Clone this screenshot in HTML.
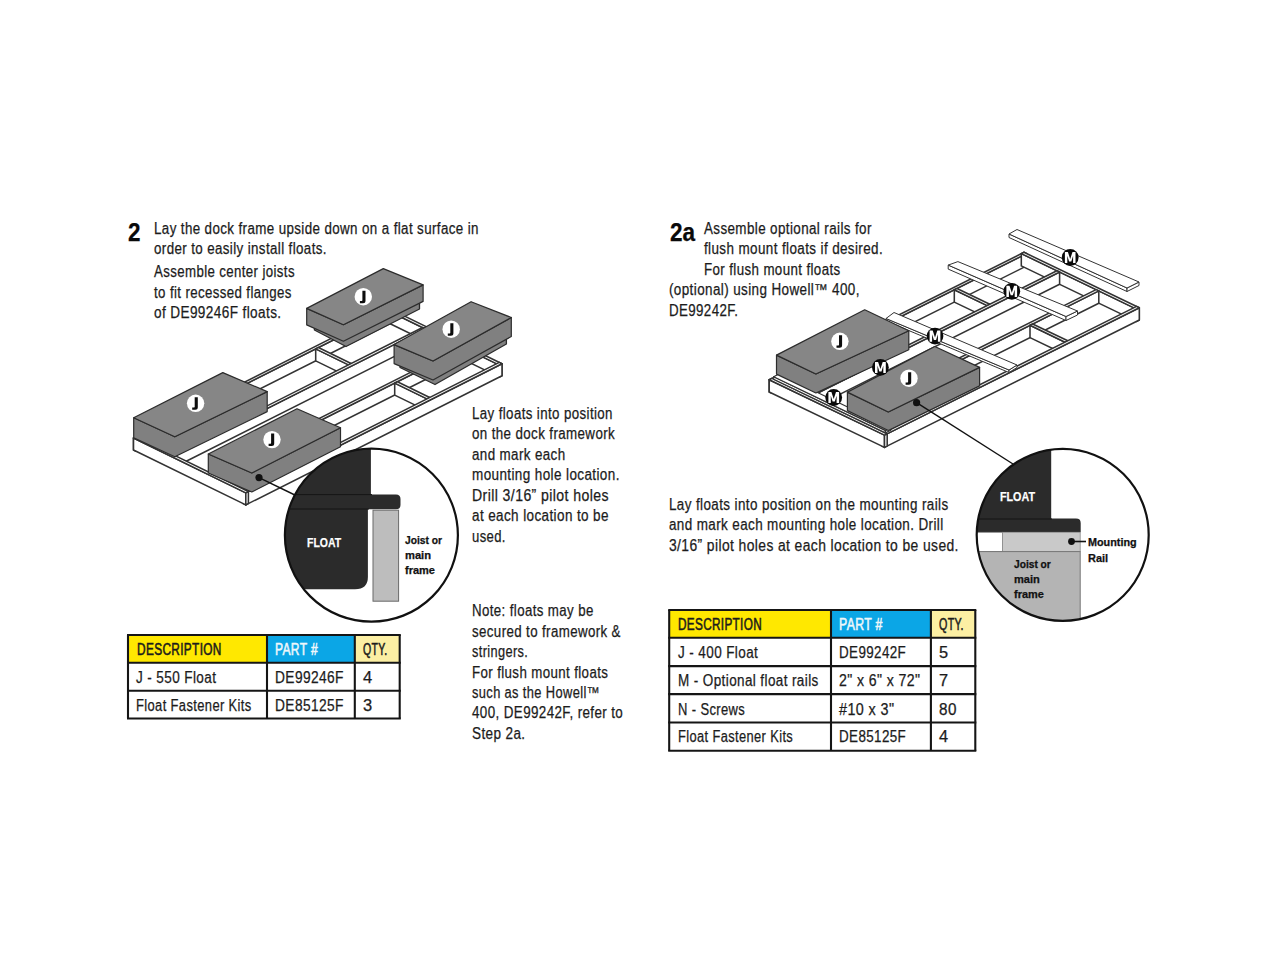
<!DOCTYPE html>
<html><head><meta charset="utf-8"><style>
html,body{margin:0;padding:0;background:#fff;}
body{width:1270px;height:961px;position:relative;overflow:hidden;font-family:"Liberation Sans",sans-serif;}
.t{position:absolute;white-space:pre;line-height:normal;transform-origin:0 0;-webkit-text-stroke:0.25px currentColor;}
svg{position:absolute;left:0;top:0;}
</style></head><body>
<svg width="1270" height="961" viewBox="0 0 1270 961"><polygon points="133.5,438.0 136.2,439.3 136.2,451.3 133.5,450.0" fill="#fff" stroke="#333333" stroke-width="1.55" stroke-linejoin="round" /><polygon points="136.2,439.3 392.5,310.2 392.5,322.2 136.2,451.3" fill="#fff" stroke="#333333" stroke-width="1.55" stroke-linejoin="round" /><polygon points="133.5,438.0 389.8,308.9 392.5,310.2 136.2,439.3" fill="#fff" stroke="#333333" stroke-width="1.55" stroke-linejoin="round" /><polygon points="387.1,310.2 499.4,365.1 499.4,377.1 387.1,322.2" fill="#fff" stroke="#333333" stroke-width="1.55" stroke-linejoin="round" /><polygon points="499.4,365.1 502.0,363.7 502.0,375.7 499.4,377.1" fill="#fff" stroke="#333333" stroke-width="1.55" stroke-linejoin="round" /><polygon points="387.1,310.2 389.8,308.9 502.0,363.7 499.4,365.1" fill="#fff" stroke="#333333" stroke-width="1.55" stroke-linejoin="round" /><polygon points="315.7,348.9 348.5,364.9 348.5,376.9 315.7,360.9" fill="#fff" stroke="#333333" stroke-width="1.55" stroke-linejoin="round" /><polygon points="348.5,364.9 351.1,363.5 351.1,375.5 348.5,376.9" fill="#fff" stroke="#333333" stroke-width="1.55" stroke-linejoin="round" /><polygon points="315.7,348.9 318.4,347.5 351.1,363.5 348.5,364.9" fill="#fff" stroke="#333333" stroke-width="1.55" stroke-linejoin="round" /><polygon points="171.7,454.0 174.3,455.3 174.3,467.3 171.7,466.0" fill="#fff" stroke="#333333" stroke-width="1.55" stroke-linejoin="round" /><polygon points="174.3,455.3 425.3,328.9 425.3,340.9 174.3,467.3" fill="#fff" stroke="#333333" stroke-width="1.55" stroke-linejoin="round" /><polygon points="171.7,454.0 422.6,327.5 425.3,328.9 174.3,455.3" fill="#fff" stroke="#333333" stroke-width="1.55" stroke-linejoin="round" /><polygon points="210.7,473.1 213.4,474.4 213.4,486.4 210.7,485.1" fill="#fff" stroke="#333333" stroke-width="1.55" stroke-linejoin="round" /><polygon points="213.4,474.4 464.3,348.0 464.3,360.0 213.4,486.4" fill="#fff" stroke="#333333" stroke-width="1.55" stroke-linejoin="round" /><polygon points="210.7,473.1 461.6,346.6 464.3,348.0 213.4,474.4" fill="#fff" stroke="#333333" stroke-width="1.55" stroke-linejoin="round" /><polygon points="394.7,383.1 427.0,398.9 427.0,410.9 394.7,395.1" fill="#fff" stroke="#333333" stroke-width="1.55" stroke-linejoin="round" /><polygon points="427.0,398.9 429.7,397.5 429.7,409.5 427.0,410.9" fill="#fff" stroke="#333333" stroke-width="1.55" stroke-linejoin="round" /><polygon points="394.7,383.1 397.4,381.7 429.7,397.5 427.0,398.9" fill="#fff" stroke="#333333" stroke-width="1.55" stroke-linejoin="round" /><polygon points="243.1,491.6 245.8,492.9 245.8,504.9 243.1,503.6" fill="#fff" stroke="#333333" stroke-width="1.55" stroke-linejoin="round" /><polygon points="245.8,492.9 502.0,363.7 502.0,375.7 245.8,504.9" fill="#fff" stroke="#333333" stroke-width="1.55" stroke-linejoin="round" /><polygon points="243.1,491.6 499.3,362.4 502.0,363.7 245.8,492.9" fill="#fff" stroke="#333333" stroke-width="1.55" stroke-linejoin="round" /><polygon points="133.5,438.0 245.8,492.9 245.8,504.9 133.5,450.0" fill="#fff" stroke="#333333" stroke-width="1.55" stroke-linejoin="round" /><polygon points="245.8,492.9 248.4,491.5 248.4,503.5 245.8,504.9" fill="#fff" stroke="#333333" stroke-width="1.55" stroke-linejoin="round" /><polygon points="133.5,438.0 136.2,436.6 248.4,491.5 245.8,492.9" fill="#fff" stroke="#333333" stroke-width="1.55" stroke-linejoin="round" /><polygon points="314.4,321.0 346.0,337.5 419.5,300.0 419.5,309.0 346.0,346.5 314.4,330.0" fill="#808080" stroke="#2c2c2c" stroke-width="1.3" stroke-linejoin="round" /><polygon points="306.7,308.4 343.4,324.7 423.1,284.9 423.1,301.4 343.4,341.2 306.7,324.9" fill="#808080" stroke="#2c2c2c" stroke-width="1.2" stroke-linejoin="round" /><polygon points="306.7,308.4 383.3,268.6 423.1,284.9 343.4,324.7" fill="#868686" stroke="#2c2c2c" stroke-width="1.2" stroke-linejoin="round" /><polygon points="400.0,359.0 435.0,376.0 506.4,335.5 506.4,344.0 435.0,384.5 400.0,367.5" fill="#808080" stroke="#2c2c2c" stroke-width="1.3" stroke-linejoin="round" /><polygon points="394.1,344.6 433.0,361.0 511.3,317.5 511.3,336.5 433.0,380.0 394.1,363.6" fill="#808080" stroke="#2c2c2c" stroke-width="1.2" stroke-linejoin="round" /><polygon points="394.1,344.6 471.1,301.7 511.3,317.5 433.0,361.0" fill="#868686" stroke="#2c2c2c" stroke-width="1.2" stroke-linejoin="round" /><polygon points="133.7,417.8 174.8,436.8 267.2,391.6 267.2,411.6 174.8,456.8 133.7,437.8" fill="#808080" stroke="#2c2c2c" stroke-width="1.2" stroke-linejoin="round" /><polygon points="133.7,417.8 222.8,372.6 267.2,391.6 174.8,436.8" fill="#868686" stroke="#2c2c2c" stroke-width="1.2" stroke-linejoin="round" /><polygon points="208.3,454.0 251.8,473.0 340.5,427.8 340.5,446.8 251.8,492.0 208.3,473.0" fill="#808080" stroke="#2c2c2c" stroke-width="1.2" stroke-linejoin="round" /><polygon points="208.3,454.0 297.0,408.8 340.5,427.8 251.8,473.0" fill="#868686" stroke="#2c2c2c" stroke-width="1.2" stroke-linejoin="round" /><circle cx="363.3" cy="296.7" r="8.7" fill="#fff"/><path d="M362.40,290.70 H365.50 V300.70 Q365.50,303.20 363.00,303.20 H359.90 V300.90 H361.80 Q362.40,300.90 362.40,300.20 Z" fill="#0d0d0d"/><circle cx="451.2" cy="329.2" r="8.7" fill="#fff"/><path d="M450.30,323.20 H453.40 V333.20 Q453.40,335.70 450.90,335.70 H447.80 V333.40 H449.70 Q450.30,333.40 450.30,332.70 Z" fill="#0d0d0d"/><circle cx="195.6" cy="403.3" r="8.7" fill="#fff"/><path d="M194.70,397.30 H197.80 V407.30 Q197.80,409.80 195.30,409.80 H192.20 V407.50 H194.10 Q194.70,407.50 194.70,406.80 Z" fill="#0d0d0d"/><circle cx="272" cy="439.6" r="8.7" fill="#fff"/><path d="M271.10,433.60 H274.20 V443.60 Q274.20,446.10 271.70,446.10 H268.60 V443.80 H270.50 Q271.10,443.80 271.10,443.10 Z" fill="#0d0d0d"/><line x1="259.0" y1="477.6" x2="300.0" y2="497.5" stroke="#111" stroke-width="1.4"/><circle cx="259" cy="477.6" r="3.6" fill="#111"/><clipPath id="cl1"><circle cx="371.4" cy="535.2" r="86.5"/></clipPath><circle cx="371.4" cy="535.2" r="86.5" fill="#fff"/><g clip-path="url(#cl1)"><path d="M270,440 L370.9,440 L370.9,494.4 L396,494.4 Q400.5,494.4 400.5,499 L400.5,505 Q400.5,509.2 396,509.2 L367.9,509.2 L367.9,577 Q367.9,589.3 355,589.3 L270,589.3 Z" fill="#2b2b2b"/><line x1="270" y1="494.6" x2="372" y2="494.6" stroke="#151515" stroke-width="1"/><line x1="270" y1="509" x2="369" y2="509" stroke="#151515" stroke-width="1"/><rect x="373" y="510.2" width="25.6" height="91" fill="#bdbdbd" stroke="#6a6a6a" stroke-width="1"/></g><circle cx="371.4" cy="535.2" r="86.5" fill="none" stroke="#111" stroke-width="2.2"/><polygon points="769.2,379.7 771.9,381.0 771.9,393.3 769.2,392.0" fill="#fff" stroke="#333333" stroke-width="1.55" stroke-linejoin="round" /><polygon points="771.9,381.0 1026.7,253.6 1026.7,265.9 771.9,393.3" fill="#fff" stroke="#333333" stroke-width="1.55" stroke-linejoin="round" /><polygon points="769.2,379.7 1024.0,252.3 1026.7,253.6 771.9,381.0" fill="#fff" stroke="#333333" stroke-width="1.55" stroke-linejoin="round" /><polygon points="1021.3,253.6 1136.6,309.1 1136.6,321.4 1021.3,265.9" fill="#fff" stroke="#333333" stroke-width="1.55" stroke-linejoin="round" /><polygon points="1136.6,309.1 1139.3,307.7 1139.3,320.0 1136.6,321.4" fill="#fff" stroke="#333333" stroke-width="1.55" stroke-linejoin="round" /><polygon points="1021.3,253.6 1024.0,252.3 1139.3,307.7 1136.6,309.1" fill="#fff" stroke="#333333" stroke-width="1.55" stroke-linejoin="round" /><polygon points="954.3,289.8 987.2,305.6 987.2,317.9 954.3,302.1" fill="#fff" stroke="#333333" stroke-width="1.55" stroke-linejoin="round" /><polygon points="987.2,305.6 989.8,304.3 989.8,316.6 987.2,317.9" fill="#fff" stroke="#333333" stroke-width="1.55" stroke-linejoin="round" /><polygon points="954.3,289.8 957.0,288.5 989.8,304.3 987.2,305.6" fill="#fff" stroke="#333333" stroke-width="1.55" stroke-linejoin="round" /><polygon points="807.5,395.5 810.2,396.8 810.2,409.1 807.5,407.8" fill="#fff" stroke="#333333" stroke-width="1.55" stroke-linejoin="round" /><polygon points="810.2,396.8 1059.6,272.0 1059.6,284.3 810.2,409.1" fill="#fff" stroke="#333333" stroke-width="1.55" stroke-linejoin="round" /><polygon points="807.5,395.5 1056.9,270.7 1059.6,272.0 810.2,396.8" fill="#fff" stroke="#333333" stroke-width="1.55" stroke-linejoin="round" /><polygon points="846.7,414.3 849.4,415.6 849.4,427.9 846.7,426.6" fill="#fff" stroke="#333333" stroke-width="1.55" stroke-linejoin="round" /><polygon points="849.4,415.6 1098.8,290.9 1098.8,303.2 849.4,427.9" fill="#fff" stroke="#333333" stroke-width="1.55" stroke-linejoin="round" /><polygon points="846.7,414.3 1096.1,289.6 1098.8,290.9 849.4,415.6" fill="#fff" stroke="#333333" stroke-width="1.55" stroke-linejoin="round" /><polygon points="1030.0,325.3 1065.1,342.2 1065.1,354.5 1030.0,337.6" fill="#fff" stroke="#333333" stroke-width="1.55" stroke-linejoin="round" /><polygon points="1065.1,342.2 1067.8,340.8 1067.8,353.1 1065.1,354.5" fill="#fff" stroke="#333333" stroke-width="1.55" stroke-linejoin="round" /><polygon points="1030.0,325.3 1032.6,324.0 1067.8,340.8 1065.1,342.2" fill="#fff" stroke="#333333" stroke-width="1.55" stroke-linejoin="round" /><polygon points="881.8,433.8 884.5,435.1 884.5,447.4 881.8,446.1" fill="#fff" stroke="#333333" stroke-width="1.55" stroke-linejoin="round" /><polygon points="884.5,435.1 1139.3,307.7 1139.3,320.0 884.5,447.4" fill="#fff" stroke="#333333" stroke-width="1.55" stroke-linejoin="round" /><polygon points="881.8,433.8 1136.6,306.4 1139.3,307.7 884.5,435.1" fill="#fff" stroke="#333333" stroke-width="1.55" stroke-linejoin="round" /><polygon points="769.2,379.7 884.5,435.1 884.5,447.4 769.2,392.0" fill="#fff" stroke="#333333" stroke-width="1.55" stroke-linejoin="round" /><polygon points="884.5,435.1 887.2,433.8 887.2,446.1 884.5,447.4" fill="#fff" stroke="#333333" stroke-width="1.55" stroke-linejoin="round" /><polygon points="769.2,379.7 771.9,378.4 887.2,433.8 884.5,435.1" fill="#fff" stroke="#333333" stroke-width="1.55" stroke-linejoin="round" /><polygon points="773.7,376.7 885.4,430.4 885.4,432.9 773.7,379.2" fill="#fff" stroke="#333333" stroke-width="1.2" stroke-linejoin="round" /><polygon points="885.4,430.4 890.8,427.7 890.8,430.2 885.4,432.9" fill="#fff" stroke="#333333" stroke-width="1.2" stroke-linejoin="round" /><polygon points="773.7,376.7 779.0,374.0 890.8,427.7 885.4,430.4" fill="#fff" stroke="#333333" stroke-width="1.2" stroke-linejoin="round" /><polygon points="886.0,318.5 1009.0,370.0 1009.0,372.5 886.0,321.0" fill="#fff" stroke="#333333" stroke-width="1.0" stroke-linejoin="round" /><polygon points="1009.0,370.0 1017.0,365.0 1017.0,367.5 1009.0,372.5" fill="#fff" stroke="#333333" stroke-width="1.0" stroke-linejoin="round" /><polygon points="894.0,312.5 1017.0,365.0 1009.0,370.0 886.0,318.5" fill="#fff" stroke="#333333" stroke-width="1.0" stroke-linejoin="round" /><polygon points="948.2,265.1 1066.0,316.5 1066.0,320.5 948.2,269.1" fill="#fff" stroke="#333333" stroke-width="1.0" stroke-linejoin="round" /><polygon points="1066.0,316.5 1077.5,311.0 1077.5,315.0 1066.0,320.5" fill="#fff" stroke="#333333" stroke-width="1.0" stroke-linejoin="round" /><polygon points="957.9,261.6 1077.5,311.0 1066.0,316.5 948.2,265.1" fill="#fff" stroke="#333333" stroke-width="1.0" stroke-linejoin="round" /><polygon points="1009.0,234.0 1127.0,288.0 1127.0,291.5 1009.0,237.5" fill="#fff" stroke="#333333" stroke-width="1.0" stroke-linejoin="round" /><polygon points="1127.0,288.0 1139.0,282.0 1139.0,285.5 1127.0,291.5" fill="#fff" stroke="#333333" stroke-width="1.0" stroke-linejoin="round" /><polygon points="1017.0,229.5 1139.0,282.0 1127.0,288.0 1009.0,234.0" fill="#fff" stroke="#333333" stroke-width="1.0" stroke-linejoin="round" /><polygon points="776.5,355.1 815.9,374.0 908.8,330.7 908.8,349.7 815.9,393.0 776.5,374.1" fill="#808080" stroke="#2c2c2c" stroke-width="1.2" stroke-linejoin="round" /><polygon points="776.5,355.1 864.7,309.8 908.8,330.7 815.9,374.0" fill="#868686" stroke="#2c2c2c" stroke-width="1.2" stroke-linejoin="round" /><polygon points="847.4,392.1 888.3,412.0 979.6,367.4 979.6,385.9 888.3,430.5 847.4,410.6" fill="#808080" stroke="#2c2c2c" stroke-width="1.2" stroke-linejoin="round" /><polygon points="847.4,392.1 934.8,346.5 979.6,367.4 888.3,412.0" fill="#868686" stroke="#2c2c2c" stroke-width="1.2" stroke-linejoin="round" /><circle cx="839.9" cy="341.3" r="8.7" fill="#fff"/><path d="M839.00,335.30 H842.10 V345.30 Q842.10,347.80 839.60,347.80 H836.50 V345.50 H838.40 Q839.00,345.50 839.00,344.80 Z" fill="#0d0d0d"/><circle cx="909" cy="378.2" r="8.7" fill="#fff"/><path d="M908.10,372.20 H911.20 V382.20 Q911.20,384.70 908.70,384.70 H905.60 V382.40 H907.50 Q908.10,382.40 908.10,381.70 Z" fill="#0d0d0d"/><circle cx="1070.2" cy="257.5" r="8.4" fill="#0a0a0a"/><polygon points="1064.9,263.1 1064.9,252.0 1067.9,252.0 1070.2,259.0 1072.5,252.0 1075.5,252.0 1075.5,263.1 1073.1,263.1 1073.1,255.7 1071.3,261.5 1069.1,261.5 1067.3,255.7 1067.3,263.1" fill="#fff"/><circle cx="1011.8" cy="291.3" r="8.4" fill="#0a0a0a"/><polygon points="1006.4,296.9 1006.4,285.8 1009.5,285.8 1011.8,292.8 1014.1,285.8 1017.1,285.8 1017.1,296.9 1014.7,296.9 1014.7,289.5 1012.9,295.3 1010.7,295.3 1008.9,289.5 1008.9,296.9" fill="#fff"/><circle cx="935" cy="336.1" r="8.4" fill="#0a0a0a"/><polygon points="929.6,341.7 929.6,330.6 932.7,330.6 935.0,337.6 937.3,330.6 940.4,330.6 940.4,341.7 937.9,341.7 937.9,334.3 936.1,340.1 933.9,340.1 932.1,334.3 932.1,341.7" fill="#fff"/><circle cx="880.4" cy="367.4" r="8.4" fill="#0a0a0a"/><polygon points="875.0,373.0 875.0,361.9 878.1,361.9 880.4,368.9 882.7,361.9 885.8,361.9 885.8,373.0 883.3,373.0 883.3,365.6 881.5,371.4 879.3,371.4 877.5,365.6 877.5,373.0" fill="#fff"/><circle cx="833.7" cy="397.5" r="8.4" fill="#0a0a0a"/><polygon points="828.4,403.1 828.4,392.0 831.4,392.0 833.7,399.0 836.0,392.0 839.1,392.0 839.1,403.1 836.6,403.1 836.6,395.7 834.8,401.5 832.6,401.5 830.8,395.7 830.8,403.1" fill="#fff"/><line x1="916.6" y1="402.7" x2="1013.0" y2="464.0" stroke="#111" stroke-width="1.4"/><circle cx="916.6" cy="402.7" r="3.6" fill="#111"/><clipPath id="cl2"><circle cx="1062.7" cy="534.9" r="86"/></clipPath><circle cx="1062.7" cy="534.9" r="86" fill="#fff"/><g clip-path="url(#cl2)"><path d="M960,440 L1051.2,440 L1051.2,518.6 L1076,518.6 Q1080.7,518.6 1080.7,523 L1080.7,532.3 L960,532.3 Z" fill="#2b2b2b"/><line x1="960" y1="519" x2="1052" y2="519" stroke="#151515" stroke-width="1"/><rect x="960" y="532.3" width="42.5" height="19.3" fill="#fff" stroke="#777" stroke-width="0.8"/><rect x="1002.5" y="532.3" width="77.7" height="19.3" fill="#c9c9c9" stroke="#8a8a8a" stroke-width="0.8"/><rect x="960" y="551.6" width="120.2" height="80" fill="#b4b4b4" stroke="#777" stroke-width="1"/></g><circle cx="1062.7" cy="534.9" r="86" fill="none" stroke="#111" stroke-width="2.2"/><line x1="1071.5" y1="541.5" x2="1086.0" y2="541.5" stroke="#111" stroke-width="1.6"/><circle cx="1071.5" cy="541.5" r="3.4" fill="#111"/><rect x="128" y="635" width="139" height="27.799999999999955" fill="#ffe800"/><rect x="267" y="635" width="87.80000000000001" height="27.799999999999955" fill="#0ba6e6"/><rect x="354.8" y="635" width="44.89999999999998" height="27.799999999999955" fill="#fcefa3"/><line x1="127.0" y1="635.0" x2="400.8" y2="635.0" stroke="#151515" stroke-width="2.1"/><line x1="127.0" y1="662.8" x2="400.8" y2="662.8" stroke="#151515" stroke-width="2.1"/><line x1="127.0" y1="690.7" x2="400.8" y2="690.7" stroke="#151515" stroke-width="2.1"/><line x1="127.0" y1="718.5" x2="400.8" y2="718.5" stroke="#151515" stroke-width="2.1"/><line x1="128.0" y1="635.0" x2="128.0" y2="718.5" stroke="#151515" stroke-width="2.1"/><line x1="267.0" y1="635.0" x2="267.0" y2="718.5" stroke="#151515" stroke-width="2.1"/><line x1="354.8" y1="635.0" x2="354.8" y2="718.5" stroke="#151515" stroke-width="2.1"/><line x1="399.7" y1="635.0" x2="399.7" y2="718.5" stroke="#151515" stroke-width="2.1"/><rect x="669.2" y="610.0" width="161.79999999999995" height="27.700000000000045" fill="#ffe800"/><rect x="831.0" y="610.0" width="99.89999999999998" height="27.700000000000045" fill="#0ba6e6"/><rect x="930.9" y="610.0" width="44.39999999999998" height="27.700000000000045" fill="#fcefa3"/><line x1="668.2" y1="610.0" x2="976.3" y2="610.0" stroke="#151515" stroke-width="2.1"/><line x1="668.2" y1="637.7" x2="976.3" y2="637.7" stroke="#151515" stroke-width="2.1"/><line x1="668.2" y1="666.1" x2="976.3" y2="666.1" stroke="#151515" stroke-width="2.1"/><line x1="668.2" y1="694.1" x2="976.3" y2="694.1" stroke="#151515" stroke-width="2.1"/><line x1="668.2" y1="722.5" x2="976.3" y2="722.5" stroke="#151515" stroke-width="2.1"/><line x1="668.2" y1="750.8" x2="976.3" y2="750.8" stroke="#151515" stroke-width="2.1"/><line x1="669.2" y1="610.0" x2="669.2" y2="750.8" stroke="#151515" stroke-width="2.1"/><line x1="831.0" y1="610.0" x2="831.0" y2="750.8" stroke="#151515" stroke-width="2.1"/><line x1="930.9" y1="610.0" x2="930.9" y2="750.8" stroke="#151515" stroke-width="2.1"/><line x1="975.3" y1="610.0" x2="975.3" y2="750.8" stroke="#151515" stroke-width="2.1"/></svg>
<div class="t" style="left:154.0px;top:219.68px;font-size:15.6px;font-weight:400;color:#1c1c1c;letter-spacing:0.45px;transform:scaleX(0.8567)">Lay the dock frame upside down on a flat surface in</div>
<div class="t" style="left:154.0px;top:240.48px;font-size:15.6px;font-weight:400;color:#1c1c1c;letter-spacing:0.45px;transform:scaleX(0.8557)">order to easily install floats.</div>
<div class="t" style="left:154.0px;top:262.88px;font-size:15.6px;font-weight:400;color:#1c1c1c;letter-spacing:0.45px;transform:scaleX(0.8492)">Assemble center joists</div>
<div class="t" style="left:154.0px;top:283.68px;font-size:15.6px;font-weight:400;color:#1c1c1c;letter-spacing:0.45px;transform:scaleX(0.8503)">to fit recessed flanges</div>
<div class="t" style="left:154.0px;top:304.18px;font-size:15.6px;font-weight:400;color:#1c1c1c;letter-spacing:0.45px;transform:scaleX(0.8710)">of DE99246F floats.</div>
<div class="t" style="left:472.0px;top:404.68px;font-size:15.6px;font-weight:400;color:#1c1c1c;letter-spacing:0.45px;transform:scaleX(0.8533)">Lay floats into position</div>
<div class="t" style="left:472.0px;top:425.18px;font-size:15.6px;font-weight:400;color:#1c1c1c;letter-spacing:0.45px;transform:scaleX(0.8558)">on the dock framework</div>
<div class="t" style="left:472.0px;top:445.68px;font-size:15.6px;font-weight:400;color:#1c1c1c;letter-spacing:0.45px;transform:scaleX(0.8577)">and mark each</div>
<div class="t" style="left:472.0px;top:466.28px;font-size:15.6px;font-weight:400;color:#1c1c1c;letter-spacing:0.45px;transform:scaleX(0.8656)">mounting hole location.</div>
<div class="t" style="left:472.0px;top:486.88px;font-size:15.6px;font-weight:400;color:#1c1c1c;letter-spacing:0.45px;transform:scaleX(0.9029)">Drill 3/16” pilot holes</div>
<div class="t" style="left:472.0px;top:507.28px;font-size:15.6px;font-weight:400;color:#1c1c1c;letter-spacing:0.45px;transform:scaleX(0.8655)">at each location to be</div>
<div class="t" style="left:472.0px;top:527.68px;font-size:15.6px;font-weight:400;color:#1c1c1c;letter-spacing:0.45px;transform:scaleX(0.8384)">used.</div>
<div class="t" style="left:472.0px;top:602.08px;font-size:15.6px;font-weight:400;color:#1c1c1c;letter-spacing:0.45px;transform:scaleX(0.8515)">Note: floats may be</div>
<div class="t" style="left:472.0px;top:622.88px;font-size:15.6px;font-weight:400;color:#1c1c1c;letter-spacing:0.45px;transform:scaleX(0.8528)">secured to framework &amp;</div>
<div class="t" style="left:472.0px;top:643.18px;font-size:15.6px;font-weight:400;color:#1c1c1c;letter-spacing:0.45px;transform:scaleX(0.8198)">stringers.</div>
<div class="t" style="left:472.0px;top:663.68px;font-size:15.6px;font-weight:400;color:#1c1c1c;letter-spacing:0.45px;transform:scaleX(0.8526)">For flush mount floats</div>
<div class="t" style="left:472.0px;top:684.18px;font-size:15.6px;font-weight:400;color:#1c1c1c;letter-spacing:0.45px;transform:scaleX(0.8248)">such as the Howell™</div>
<div class="t" style="left:472.0px;top:704.48px;font-size:15.6px;font-weight:400;color:#1c1c1c;letter-spacing:0.45px;transform:scaleX(0.8594)">400, DE99242F, refer to</div>
<div class="t" style="left:472.0px;top:724.58px;font-size:15.6px;font-weight:400;color:#1c1c1c;letter-spacing:0.45px;transform:scaleX(0.8669)">Step 2a.</div>
<div class="t" style="left:703.8px;top:219.78px;font-size:15.6px;font-weight:400;color:#1c1c1c;letter-spacing:0.45px;transform:scaleX(0.8603)">Assemble optional rails for</div>
<div class="t" style="left:703.8px;top:240.48px;font-size:15.6px;font-weight:400;color:#1c1c1c;letter-spacing:0.45px;transform:scaleX(0.8624)">flush mount floats if desired.</div>
<div class="t" style="left:703.8px;top:261.18px;font-size:15.6px;font-weight:400;color:#1c1c1c;letter-spacing:0.45px;transform:scaleX(0.8545)">For flush mount floats</div>
<div class="t" style="left:669.4px;top:281.38px;font-size:15.6px;font-weight:400;color:#1c1c1c;letter-spacing:0.45px;transform:scaleX(0.8634)">(optional) using Howell™ 400,</div>
<div class="t" style="left:669.4px;top:301.88px;font-size:15.6px;font-weight:400;color:#1c1c1c;letter-spacing:0.45px;transform:scaleX(0.8543)">DE99242F.</div>
<div class="t" style="left:669.3px;top:495.58px;font-size:15.6px;font-weight:400;color:#1c1c1c;letter-spacing:0.45px;transform:scaleX(0.8627)">Lay floats into position on the mounting rails</div>
<div class="t" style="left:669.3px;top:516.28px;font-size:15.6px;font-weight:400;color:#1c1c1c;letter-spacing:0.45px;transform:scaleX(0.8624)">and mark each mounting hole location. Drill</div>
<div class="t" style="left:669.3px;top:536.68px;font-size:15.6px;font-weight:400;color:#1c1c1c;letter-spacing:0.45px;transform:scaleX(0.8896)">3/16” pilot holes at each location to be used.</div>
<div class="t" style="left:128.0px;top:217.92px;font-size:25.5px;font-weight:700;color:#0a0a0a;letter-spacing:0px;transform:scaleX(0.8811)">2</div>
<div class="t" style="left:669.7px;top:217.92px;font-size:25.5px;font-weight:700;color:#0a0a0a;letter-spacing:0px;transform:scaleX(0.8846)">2a</div>
<div class="t" style="left:136.5px;top:641.08px;font-size:15.6px;font-weight:400;color:#1c1c1c;letter-spacing:0.45px;-webkit-text-stroke:0.55px currentColor;transform:scaleX(0.7598)">DESCRIPTION</div>
<div class="t" style="left:275.2px;top:641.08px;font-size:15.6px;font-weight:400;color:#eef7fb;letter-spacing:0.45px;-webkit-text-stroke:0.55px currentColor;transform:scaleX(0.7727)">PART #</div>
<div class="t" style="left:363.3px;top:641.08px;font-size:15.6px;font-weight:400;color:#1c1c1c;letter-spacing:0.45px;-webkit-text-stroke:0.55px currentColor;transform:scaleX(0.6772)">QTY.</div>
<div class="t" style="left:136.3px;top:668.98px;font-size:15.6px;font-weight:400;color:#1c1c1c;letter-spacing:0.45px;transform:scaleX(0.8677)">J - 550 Float</div>
<div class="t" style="left:275.2px;top:668.98px;font-size:15.6px;font-weight:400;color:#1c1c1c;letter-spacing:0.45px;transform:scaleX(0.8815)">DE99246F</div>
<div class="t" style="left:363.3px;top:668.98px;font-size:15.6px;font-weight:400;color:#1c1c1c;letter-spacing:0.45px;transform:scaleX(1.0605)">4</div>
<div class="t" style="left:136.3px;top:697.28px;font-size:15.6px;font-weight:400;color:#1c1c1c;letter-spacing:0.45px;transform:scaleX(0.8297)">Float Fastener Kits</div>
<div class="t" style="left:275.2px;top:697.28px;font-size:15.6px;font-weight:400;color:#1c1c1c;letter-spacing:0.45px;transform:scaleX(0.8815)">DE85125F</div>
<div class="t" style="left:363.3px;top:697.28px;font-size:15.6px;font-weight:400;color:#1c1c1c;letter-spacing:0.45px;transform:scaleX(1.0605)">3</div>
<div class="t" style="left:678.2px;top:615.98px;font-size:15.6px;font-weight:400;color:#1c1c1c;letter-spacing:0.45px;-webkit-text-stroke:0.55px currentColor;transform:scaleX(0.7535)">DESCRIPTION</div>
<div class="t" style="left:839.3px;top:615.98px;font-size:15.6px;font-weight:400;color:#eef7fb;letter-spacing:0.45px;-webkit-text-stroke:0.55px currentColor;transform:scaleX(0.7873)">PART #</div>
<div class="t" style="left:939.4px;top:615.98px;font-size:15.6px;font-weight:400;color:#1c1c1c;letter-spacing:0.45px;-webkit-text-stroke:0.55px currentColor;transform:scaleX(0.6884)">QTY.</div>
<div class="t" style="left:678.2px;top:644.18px;font-size:15.6px;font-weight:400;color:#1c1c1c;letter-spacing:0.45px;transform:scaleX(0.8666)">J - 400 Float</div>
<div class="t" style="left:839.3px;top:644.18px;font-size:15.6px;font-weight:400;color:#1c1c1c;letter-spacing:0.45px;transform:scaleX(0.8596)">DE99242F</div>
<div class="t" style="left:939.4px;top:644.18px;font-size:15.6px;font-weight:400;color:#1c1c1c;letter-spacing:0.45px;transform:scaleX(1.0490)">5</div>
<div class="t" style="left:678.2px;top:672.48px;font-size:15.6px;font-weight:400;color:#1c1c1c;letter-spacing:0.45px;transform:scaleX(0.8659)">M - Optional float rails</div>
<div class="t" style="left:839.3px;top:672.48px;font-size:15.6px;font-weight:400;color:#1c1c1c;letter-spacing:0.45px;transform:scaleX(0.9048)">2" x 6" x 72"</div>
<div class="t" style="left:939.4px;top:672.48px;font-size:15.6px;font-weight:400;color:#1c1c1c;letter-spacing:0.45px;transform:scaleX(1.0490)">7</div>
<div class="t" style="left:678.2px;top:700.58px;font-size:15.6px;font-weight:400;color:#1c1c1c;letter-spacing:0.45px;transform:scaleX(0.8319)">N - Screws</div>
<div class="t" style="left:839.3px;top:700.58px;font-size:15.6px;font-weight:400;color:#1c1c1c;letter-spacing:0.45px;transform:scaleX(0.9207)">#10 x 3"</div>
<div class="t" style="left:939.4px;top:700.58px;font-size:15.6px;font-weight:400;color:#1c1c1c;letter-spacing:0.45px;transform:scaleX(0.9775)">80</div>
<div class="t" style="left:678.2px;top:728.28px;font-size:15.6px;font-weight:400;color:#1c1c1c;letter-spacing:0.45px;transform:scaleX(0.8261)">Float Fastener Kits</div>
<div class="t" style="left:839.3px;top:728.28px;font-size:15.6px;font-weight:400;color:#1c1c1c;letter-spacing:0.45px;transform:scaleX(0.8596)">DE85125F</div>
<div class="t" style="left:939.4px;top:728.28px;font-size:15.6px;font-weight:400;color:#1c1c1c;letter-spacing:0.45px;transform:scaleX(1.0490)">4</div>
<div class="t" style="left:306.6px;top:534.58px;font-size:13.5px;font-weight:700;color:#fff;letter-spacing:0px;transform:scaleX(0.7750)">FLOAT</div>
<div class="t" style="left:404.5px;top:534.75px;font-size:10px;font-weight:700;color:#111;letter-spacing:0px;transform:scaleX(1.0242)">Joist or</div>
<div class="t" style="left:404.5px;top:549.55px;font-size:10px;font-weight:700;color:#111;letter-spacing:0px;transform:scaleX(1.1138)">main</div>
<div class="t" style="left:404.5px;top:564.95px;font-size:10px;font-weight:700;color:#111;letter-spacing:0px;transform:scaleX(1.1009)">frame</div>
<div class="t" style="left:999.5px;top:489.28px;font-size:13.5px;font-weight:700;color:#fff;letter-spacing:0px;transform:scaleX(0.7955)">FLOAT</div>
<div class="t" style="left:1088.4px;top:537.45px;font-size:10px;font-weight:700;color:#111;letter-spacing:0px;transform:scaleX(1.0804)">Mounting</div>
<div class="t" style="left:1088.4px;top:552.75px;font-size:10px;font-weight:700;color:#111;letter-spacing:0px;transform:scaleX(1.0957)">Rail</div>
<div class="t" style="left:1013.7px;top:558.75px;font-size:10px;font-weight:700;color:#111;letter-spacing:0px;transform:scaleX(1.0187)">Joist or</div>
<div class="t" style="left:1013.7px;top:573.95px;font-size:10px;font-weight:700;color:#111;letter-spacing:0px;transform:scaleX(1.1052)">main</div>
<div class="t" style="left:1013.7px;top:589.25px;font-size:10px;font-weight:700;color:#111;letter-spacing:0px;transform:scaleX(1.0936)">frame</div>
</body></html>
